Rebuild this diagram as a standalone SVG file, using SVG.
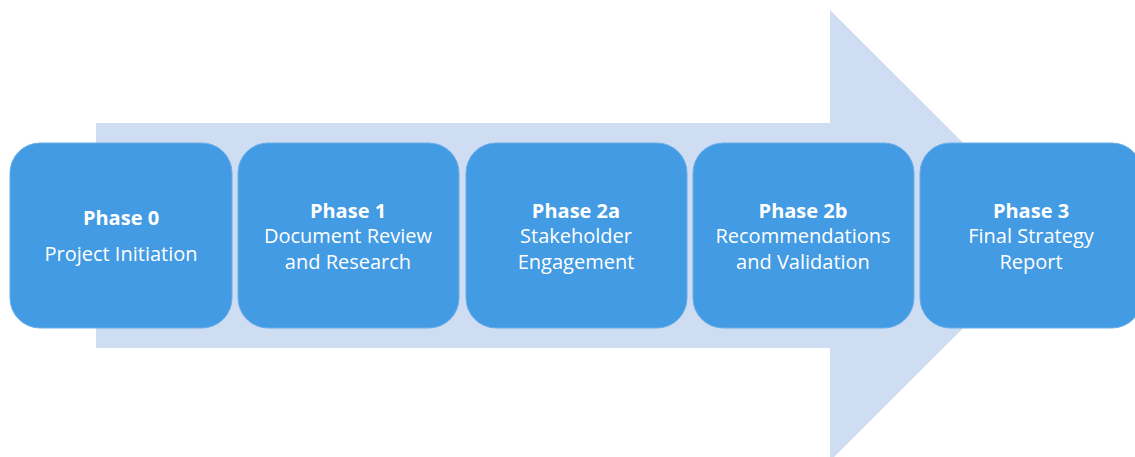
<svg xmlns="http://www.w3.org/2000/svg" width="1135" height="457" viewBox="0 0 1135 457">
<style>
.box{fill:#429be3;stroke:#6aaeea;stroke-width:1}
.t{font-family:"Open Sans","Noto Sans",sans-serif;font-size:20px;fill:#ffffff;text-anchor:middle}
.b{font-weight:bold}
</style>
<rect width="1135" height="457" fill="#ffffff"/>
<polygon id="big-arrow" points="96,123 830,123 830,10 1056,235.5 830,461 830,348 96,348" fill="#cfddf3"/>
<g id="connectors"></g>
<g id="phase0">
<rect class="box" x="10" y="143" width="222" height="185" rx="30"/>
<text class="t b" x="121" y="225">Phase 0</text>
<text class="t" x="121" y="261">Project Initiation</text>
</g>
<g id="phase1">
<rect class="box" x="238" y="143" width="221" height="185" rx="30"/>
<text class="t b" x="348" y="218">Phase 1</text>
<text class="t" x="348" y="243">Document Review</text>
<text class="t" x="348" y="269">and Research</text>
</g>
<g id="phase2a">
<rect class="box" x="466" y="143" width="221" height="185" rx="30"/>
<text class="t b" x="576" y="218">Phase 2a</text>
<text class="t" x="576" y="243">Stakeholder</text>
<text class="t" x="576" y="269">Engagement</text>
</g>
<g id="phase2b">
<rect class="box" x="693" y="143" width="221" height="185" rx="30"/>
<text class="t b" x="803" y="218">Phase 2b</text>
<text class="t" x="803" y="243">Recommendations</text>
<text class="t" x="803" y="269">and Validation</text>
</g>
<g id="phase3">
<rect class="box" x="920" y="143" width="222" height="185" rx="30"/>
<text class="t b" x="1031" y="218">Phase 3</text>
<text class="t" x="1031" y="243">Final Strategy</text>
<text class="t" x="1031" y="269">Report</text>
</g>
</svg>
